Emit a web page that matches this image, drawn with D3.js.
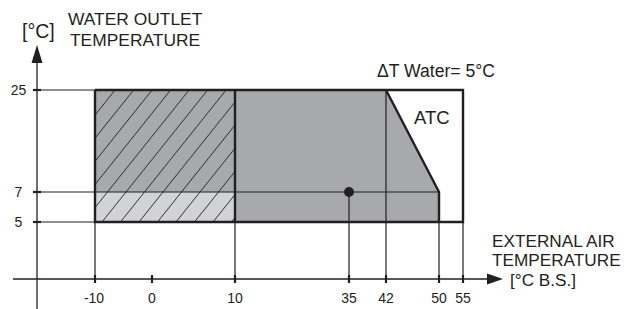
<!DOCTYPE html>
<html><head><meta charset="utf-8">
<script src="https://cdn.jsdelivr.net/npm/d3@7"></script>
<style>
html,body{margin:0;padding:0;background:#fff;}
svg text{font-family:"Liberation Sans",Arial,sans-serif;fill:#231f20;}
</style></head>
<body>
<svg id="c" width="638" height="309"></svg>
<script>
// ---- data ----
const xTicks = [-10, 0, 10, 35, 42, 50, 55];
const yTicks = [5, 7, 25];
// operating envelope (shaded, dark)
const envX = [-10, 42, 50, 50, -10];
const envY = [25, 25, 7, 5, 5];
// full outer frame (incl. ATC zone)
const frameX = [-10, 55];
const frameY = [5, 25];
// hatched zone and light zone
const hatchX = [-10, 10];
const hatchY = [5, 25];
const lightY = [5, 7];
// design point
const pointX = [35];
const pointY = [7];
const labels = {
  yTitle1: "WATER OUTLET", yTitle2: "TEMPERATURE", yUnit: "[°C]",
  xTitle1: "EXTERNAL AIR", xTitle2: "TEMPERATURE", xUnit: "[°C B.S.]",
  dT: "\u0394T Water= 5°C", atc: "ATC"
};

// ---- scales (schematic, piecewise) ----
const x = d3.scaleLinear().domain(xTicks).range([95, 152, 235, 349, 386, 439, 463]);
const y = d3.scaleLinear().domain(yTicks).range([222, 192, 90]);
const axisY = 279, axisX = 37;
const ink = "#231f20";

const svg = d3.select("#c");
const defs = svg.append("defs");
defs.append("clipPath").attr("id", "hclip").append("rect")
  .attr("x", x(hatchX[0])).attr("y", y(hatchY[1]))
  .attr("width", x(hatchX[1]) - x(hatchX[0])).attr("height", y(hatchY[0]) - y(hatchY[1]));

// envelope fill
svg.append("path")
  .attr("d", d3.line()(envX.map((v, i) => [x(v), y(envY[i])])) + "Z")
  .attr("fill", "#a7a9ac");
// light zone
svg.append("rect")
  .attr("x", x(hatchX[0])).attr("y", y(lightY[1]))
  .attr("width", x(hatchX[1]) - x(hatchX[0])).attr("height", y(lightY[0]) - y(lightY[1]))
  .attr("fill", "#d1d3d4");
// hatching
const hg = svg.append("g").attr("clip-path", "url(#hclip)");
const x0 = x(hatchX[0]), x1 = x(hatchX[1]), yt = y(hatchY[1]), yb = y(hatchY[0]);
const slope = 1.25, step = 18.5;
for (let s = x0 - (yb - yt) / slope; s < x1 + 20; s += step) {
  hg.append("line")
    .attr("x1", s).attr("y1", yb + 2)
    .attr("x2", s + (yb - yt + 4) / slope).attr("y2", yt - 2)
    .attr("stroke", ink).attr("stroke-width", 0.9);
}

// thin reference lines
const thin = (x1, y1, x2, y2) => svg.append("line")
  .attr("x1", x1).attr("y1", y1).attr("x2", x2).attr("y2", y2)
  .attr("stroke", ink).attr("stroke-width", 1.2);
thin(axisX, y(25), x(-10), y(25));
thin(axisX, y(5), x(-10), y(5));
thin(axisX, y(7), x(50), y(7));
xTicks.filter(v => v !== 0).forEach(v => {
  const top = v === 35 ? y(7) : v === 42 ? y(25) : y(5);
  thin(x(v), top, x(v), axisY);
});

// thick outlines
const thick = (pts, w) => svg.append("path")
  .attr("d", d3.line()(pts)).attr("fill", "none")
  .attr("stroke", ink).attr("stroke-width", w || 2.4).attr("stroke-linejoin", "miter");
thick([[x(frameX[0]), y(frameY[1])], [x(frameX[1]), y(frameY[1])], [x(frameX[1]), y(frameY[0])], [x(frameX[0]), y(frameY[0])], [x(frameX[0]), y(frameY[1])]], 2.4);
thick([[x(10), y(25)], [x(10), y(5)]]);
thick([[x(42), y(25)], [x(50), y(7)], [x(50), y(5)]]);

// axes
svg.append("line").attr("x1", axisX).attr("y1", 62).attr("x2", axisX).attr("y2", 309)
  .attr("stroke", ink).attr("stroke-width", 1.3);
svg.append("line").attr("x1", 13).attr("y1", axisY).attr("x2", 490).attr("y2", axisY)
  .attr("stroke", ink).attr("stroke-width", 1.3);
svg.append("path").attr("d", `M${axisX},45 L${axisX - 5.5},63 L${axisX + 5.5},63 Z`).attr("fill", ink);
svg.append("path").attr("d", `M503,${axisY} L487,${axisY - 5.5} L487,${axisY + 5.5} Z`).attr("fill", ink);

// tick marks
xTicks.forEach(v => svg.append("line").attr("x1", x(v)).attr("x2", x(v))
  .attr("y1", axisY - 4).attr("y2", axisY + 4).attr("stroke", ink).attr("stroke-width", 2.2));
yTicks.forEach(v => svg.append("line").attr("x1", axisX - 4).attr("x2", axisX + 4)
  .attr("y1", y(v)).attr("y2", y(v)).attr("stroke", ink).attr("stroke-width", 2.2));

// tick labels
xTicks.forEach(v => svg.append("text").attr("x", x(v) + (v < 0 ? -1 : 0)).attr("y", 303)
  .attr("text-anchor", "middle").attr("font-size", 14).text(v));
yTicks.forEach(v => svg.append("text").attr("x", 18.5).attr("y", y(v) + 5)
  .attr("text-anchor", "middle").attr("font-size", 14).text(v));

// design point
svg.selectAll("circle.pt").data(pointX).enter().append("circle")
  .attr("cx", d => x(d)).attr("cy", (d, i) => y(pointY[i])).attr("r", 5).attr("fill", ink);

// titles
const T = (t, xx, yy, fs, anchor) => svg.append("text").attr("x", xx).attr("y", yy)
  .attr("font-size", fs).attr("text-anchor", anchor || "start").text(t);
T(labels.yUnit, 22, 38, 19.5);
T(labels.yTitle1, 68, 25, 17.4);
T(labels.yTitle2, 70, 46, 17.4);
T(labels.dT, 377, 77, 17.6);
T(labels.atc, 414, 124, 18.5);
T(labels.xTitle1, 492, 247, 17.2);
T(labels.xTitle2, 492, 266, 17.2);
T(labels.xUnit, 510, 286, 17.2);
</script>
</body></html>
